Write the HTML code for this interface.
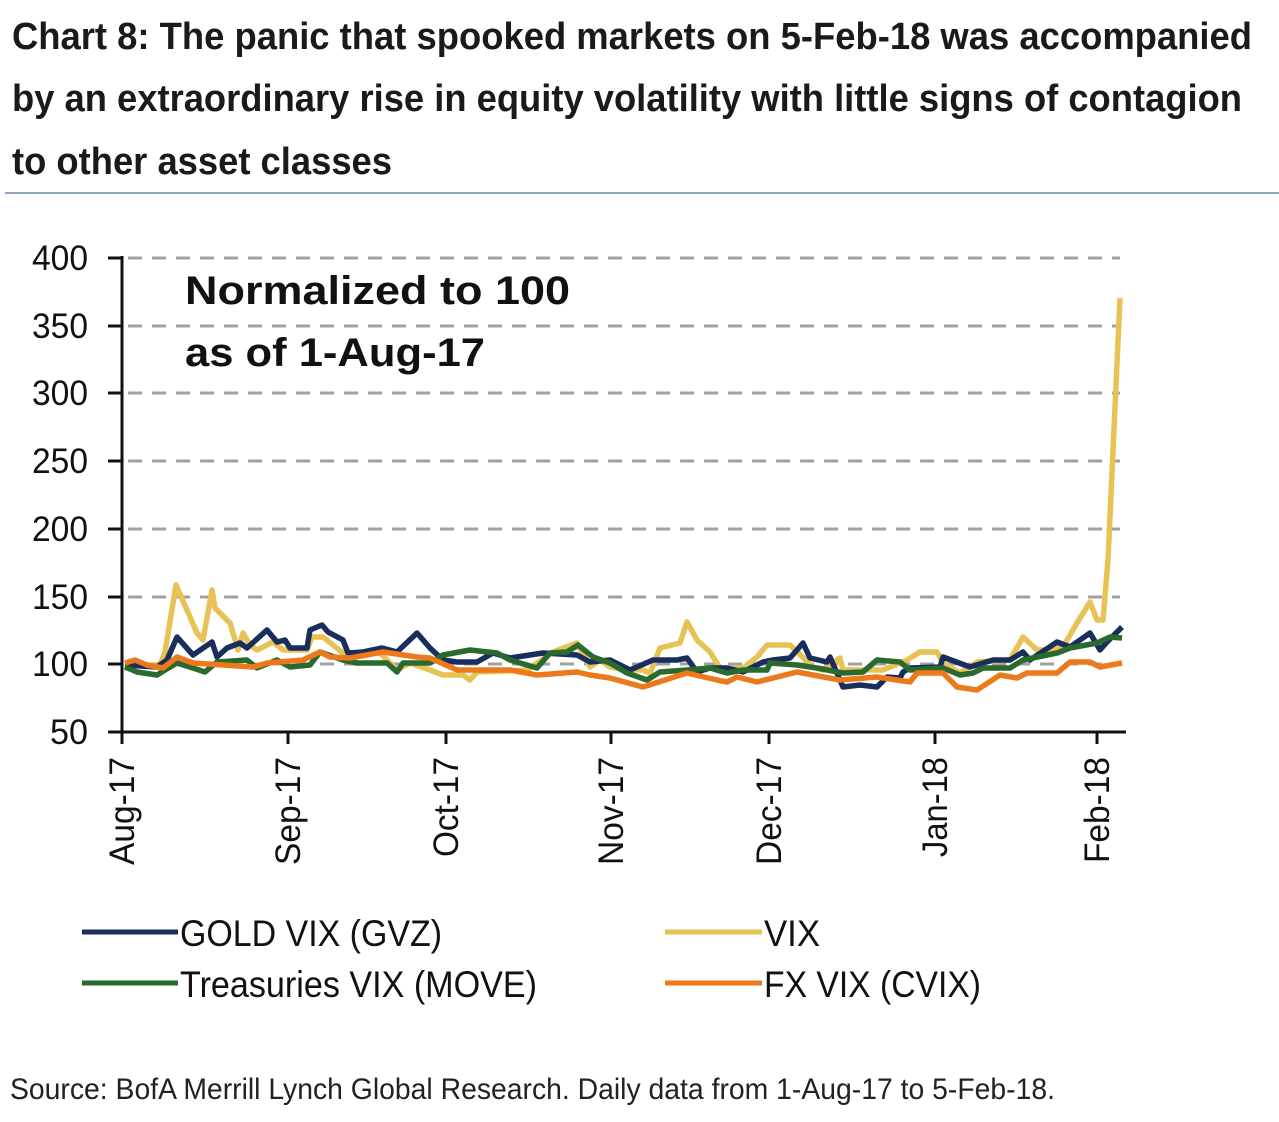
<!DOCTYPE html>
<html><head><style>body{margin:0;background:#fff}svg{display:block}</style></head><body>
<svg width="1279" height="1122" viewBox="0 0 1279 1122" xmlns="http://www.w3.org/2000/svg" font-family="Liberation Sans, sans-serif">
<g font-weight="bold" font-size="38" fill="#1a1a1a">
<text x="12" y="49" textLength="1240" lengthAdjust="spacingAndGlyphs">Chart 8: The panic that spooked markets on 5-Feb-18 was accompanied</text>
<text x="12" y="111" textLength="1230" lengthAdjust="spacingAndGlyphs">by an extraordinary rise in equity volatility with little signs of contagion</text>
<text x="12" y="174" textLength="380" lengthAdjust="spacingAndGlyphs">to other asset classes</text>
</g>
<line x1="5" y1="193" x2="1279" y2="193" stroke="#8fa3c0" stroke-width="2"/>
<g stroke="#a0a0a0" stroke-width="3" stroke-dasharray="14,10">
<line x1="128" y1="258" x2="1120" y2="258"/><line x1="128" y1="326" x2="1120" y2="326"/><line x1="128" y1="393" x2="1120" y2="393"/><line x1="128" y1="461" x2="1120" y2="461"/><line x1="128" y1="529" x2="1120" y2="529"/><line x1="128" y1="597" x2="1120" y2="597"/><line x1="128" y1="664" x2="1120" y2="664"/>
</g>
<g stroke="#111" stroke-width="3">
<line x1="122" y1="256" x2="122" y2="734"/><line x1="122" y1="732" x2="1126" y2="732"/>
<line x1="108" y1="258" x2="122" y2="258"/><line x1="108" y1="326" x2="122" y2="326"/><line x1="108" y1="393" x2="122" y2="393"/><line x1="108" y1="461" x2="122" y2="461"/><line x1="108" y1="529" x2="122" y2="529"/><line x1="108" y1="597" x2="122" y2="597"/><line x1="108" y1="664" x2="122" y2="664"/><line x1="108" y1="732" x2="122" y2="732"/>
<line x1="122" y1="732" x2="122" y2="744"/><line x1="288" y1="732" x2="288" y2="744"/><line x1="446" y1="732" x2="446" y2="744"/><line x1="611" y1="732" x2="611" y2="744"/><line x1="769" y1="732" x2="769" y2="744"/><line x1="935" y1="732" x2="935" y2="744"/><line x1="1097" y1="732" x2="1097" y2="744"/>
</g>
<g font-size="35" fill="#111" text-anchor="end">
<text x="88" y="270" textLength="56" lengthAdjust="spacingAndGlyphs">400</text><text x="88" y="338" textLength="56" lengthAdjust="spacingAndGlyphs">350</text><text x="88" y="405" textLength="56" lengthAdjust="spacingAndGlyphs">300</text><text x="88" y="473" textLength="56" lengthAdjust="spacingAndGlyphs">250</text><text x="88" y="541" textLength="56" lengthAdjust="spacingAndGlyphs">200</text><text x="88" y="609" textLength="56" lengthAdjust="spacingAndGlyphs">150</text><text x="88" y="676" textLength="56" lengthAdjust="spacingAndGlyphs">100</text><text x="88" y="744" textLength="38" lengthAdjust="spacingAndGlyphs">50</text>
</g>
<g font-size="35" fill="#111" text-anchor="end">
<text transform="translate(134,757) rotate(-90)" textLength="108" lengthAdjust="spacingAndGlyphs">Aug-17</text>
<text transform="translate(300,757) rotate(-90)" textLength="108" lengthAdjust="spacingAndGlyphs">Sep-17</text>
<text transform="translate(458,757) rotate(-90)" textLength="100" lengthAdjust="spacingAndGlyphs">Oct-17</text>
<text transform="translate(623,757) rotate(-90)" textLength="108" lengthAdjust="spacingAndGlyphs">Nov-17</text>
<text transform="translate(781,757) rotate(-90)" textLength="108" lengthAdjust="spacingAndGlyphs">Dec-17</text>
<text transform="translate(947,757) rotate(-90)" textLength="100" lengthAdjust="spacingAndGlyphs">Jan-18</text>
<text transform="translate(1109,757) rotate(-90)" textLength="106" lengthAdjust="spacingAndGlyphs">Feb-18</text>
</g>
<g font-weight="bold" font-size="40" fill="#111">
<text x="185" y="304" textLength="385" lengthAdjust="spacingAndGlyphs">Normalized to 100</text>
<text x="185" y="366" textLength="300" lengthAdjust="spacingAndGlyphs">as of 1-Aug-17</text>
</g>
<g fill="none" stroke-width="5.5" stroke-linejoin="round">
<polyline stroke="#e7c254" points="125,665 160,665 165,652 176,585 197,633 203,640 212,590 215,608 230,623 238,650 243,633 250,645 257,650 273,642 283,650 307,650 312,637 323,637 343,653 357,653 377,650 397,670 410,663 430,670 443,675 463,675 470,680 477,672 527,670 553,652 577,643 590,667 600,660 610,667 630,670 643,670 650,673 660,648 680,643 687,622 697,640 710,652 720,668 743,668 757,657 767,645 790,645 813,667 823,670 840,658 843,670 863,670 883,670 907,660 920,652 937,652 943,663 960,673 977,662 1010,660 1023,637 1037,650 1053,650 1063,647 1077,623 1090,602 1097,620 1103,620 1108,560 1120,298"/>
<polyline stroke="#1a2e5e" points="125,665 157,667 167,660 177,637 193,655 212,642 217,657 227,648 240,643 247,648 267,630 277,642 285,640 290,648 307,648 310,630 322,625 328,632 343,640 348,653 363,652 382,648 397,652 417,633 430,648 443,660 457,662 477,662 493,653 510,658 543,653 577,655 590,662 610,660 630,670 653,660 677,660 687,658 697,672 710,668 727,668 743,672 763,662 773,660 790,658 803,643 810,658 827,662 830,657 843,687 860,685 877,687 887,677 900,678 903,672 910,668 940,667 943,657 970,667 993,660 1010,660 1023,652 1030,660 1057,642 1070,647 1090,633 1100,650 1107,642 1122,627"/>
<polyline stroke="#2a6a2e" points="125,667 137,672 157,675 165,670 177,663 193,668 205,672 217,662 247,660 257,668 277,660 290,667 310,665 320,652 343,660 357,663 387,663 397,672 403,663 430,663 443,655 470,650 497,653 510,660 537,668 550,653 567,652 578,645 593,657 610,663 627,673 647,680 660,672 687,670 710,668 727,673 743,670 767,670 770,663 797,665 817,668 843,673 863,672 877,660 900,662 910,670 943,668 960,675 973,673 983,668 1010,668 1023,660 1057,653 1070,648 1097,643 1110,637 1122,638"/>
<polyline stroke="#ec7a1c" points="125,663 135,660 147,665 163,668 177,657 193,663 253,667 267,663 303,660 320,652 330,657 350,658 383,652 417,657 430,658 457,670 510,670 537,675 577,672 590,675 610,678 643,687 687,673 717,680 727,682 737,677 757,682 797,672 840,680 877,677 910,682 917,673 943,673 957,687 977,690 1000,675 1017,678 1027,673 1057,673 1070,662 1090,662 1100,667 1122,663"/>
</g>
<g stroke-width="5">
<line x1="82" y1="932" x2="178" y2="932" stroke="#1a2e5e"/>
<line x1="665" y1="932" x2="762" y2="932" stroke="#e7c254"/>
<line x1="82" y1="983" x2="178" y2="983" stroke="#2a6a2e"/>
<line x1="665" y1="983" x2="762" y2="983" stroke="#ec7a1c"/>
</g>
<g font-size="37" fill="#111">
<text x="180" y="946" textLength="262" lengthAdjust="spacingAndGlyphs">GOLD VIX (GVZ)</text>
<text x="764" y="946" textLength="56" lengthAdjust="spacingAndGlyphs">VIX</text>
<text x="180" y="997" textLength="357" lengthAdjust="spacingAndGlyphs">Treasuries VIX (MOVE)</text>
<text x="764" y="997" textLength="217" lengthAdjust="spacingAndGlyphs">FX VIX (CVIX)</text>
</g>
<text x="10" y="1099" font-size="30" fill="#222" textLength="1045" lengthAdjust="spacingAndGlyphs">Source: BofA Merrill Lynch Global Research. Daily data from 1-Aug-17 to 5-Feb-18.</text>
</svg>
</body></html>
